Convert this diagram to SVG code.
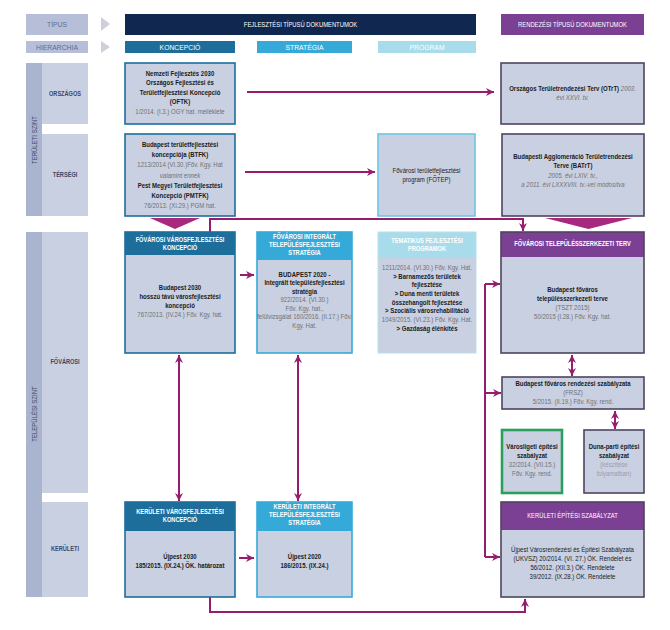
<svg xmlns="http://www.w3.org/2000/svg" width="670" height="630" viewBox="0 0 670 630">
<defs>
<style>
text{font-family:"Liberation Sans",Arial,sans-serif;text-anchor:middle;font-size:7px;fill:#1b1b1b}
.b{font-weight:bold}
.g{fill:#707070}
.i{font-style:italic}
.lg{fill:#9c9cab}
.h{fill:#fff;font-size:6.6px;font-weight:bold}
.hp{fill:#fff;font-size:6.8px}
.lab{fill:#3e4866;font-size:6.6px;font-weight:bold}
.side{fill:#3e4866;font-size:7px}
.top{fill:#616b93;font-size:6.8px}
.fill{fill:#c9d0e2}
.bt{fill:none;stroke:#1d6e9b;stroke-width:1.6}
.bs{fill:none;stroke:#35aad9;stroke-width:1.6}
.bl{fill:none;stroke:#6cc6e3;stroke-width:1.6}
.bp{fill:none;stroke:#4f4462;stroke-width:1.6}
.bg{fill:none;stroke:#2c9e5e;stroke-width:2.6}
.con{fill:none;stroke:#951c6e;stroke-width:2}
.chev{fill:#a8287e}
</style>
<marker id="ah" viewBox="0 0 10 10" refX="10" refY="5" markerWidth="8" markerHeight="8" markerUnits="userSpaceOnUse" orient="auto-start-reverse"><path d="M0,0 L10,5 L0,10 L3,5 z" fill="#951c6e"/></marker>
</defs>
<rect width="670" height="630" fill="#fff"/>

<!-- header -->
<g id="h-tipus">
<rect x="26" y="14" width="62" height="21" fill="#b7bfd8"/>
<text class="top" x="57" y="27">TÍPUS</text>
<polygon points="101,17 110,24 101,31" fill="#cdd0da"/>
</g>
<g id="h-fejl">
<rect x="125" y="14" width="351" height="21" fill="#10284f"/>
<g transform="translate(300.5 0) scale(.86 1)"><text class="hp" y="27">FEJLESZTÉSI TÍPUSÚ DOKUMENTUMOK</text></g>
</g>
<g id="h-rend">
<rect x="501" y="14" width="143" height="21" fill="#7b3f94"/>
<g transform="translate(572.5 0) scale(.86 1)"><text class="hp" y="27">RENDEZÉSI TÍPUSÚ DOKUMENTUMOK</text></g>
</g>
<g id="h-hier">
<rect x="26" y="41" width="62" height="12" fill="#b7bfd8"/>
<text class="top" x="57" y="49.5">HIERARCHIA</text>
<polygon points="101,41 110,47 101,53" fill="#cdd0da"/>
</g>
<g id="h-konc">
<rect x="125" y="41" width="110" height="12" fill="#1d6e9b"/>
<text class="hp" x="180" y="49.5">KONCEPCIÓ</text>
</g>
<g id="h-strat">
<rect x="257" y="41" width="95" height="12" fill="#35aad9"/>
<text class="hp" x="304.5" y="49.5">STRATÉGIA</text>
</g>
<g id="h-prog">
<rect x="378" y="41" width="98" height="12" fill="#a8dcea"/>
<text class="hp" x="427" y="49.5">PROGRAM</text>
</g>

<!-- left levels -->
<g id="lv-teruleti">
<rect x="26" y="63" width="16" height="153" fill="#a9b5cf"/>
<g transform="translate(36.5 140) rotate(-90) scale(.86 1)"><text class="side" x="0" y="0">TERÜLETI SZINT</text></g>
</g>
<g id="lv-orszagos">
<rect x="42" y="63" width="46" height="61" fill="#c9d0e2"/>
<g transform="translate(65 0) scale(.85 1)"><text class="lab" y="96">ORSZÁGOS</text></g>
</g>
<g id="lv-tersegi">
<rect x="42" y="134" width="46" height="82" fill="#c9d0e2"/>
<g transform="translate(65 0) scale(.85 1)"><text class="lab" y="177">TÉRSÉGI</text></g>
</g>
<g id="lv-telepulesi">
<rect x="26" y="232" width="16" height="365" fill="#a9b5cf"/>
<g transform="translate(36.5 414) rotate(-90) scale(.86 1)"><text class="side" x="0" y="0">TELEPÜLÉSI SZINT</text></g>
</g>
<g id="lv-fovarosi">
<rect x="42" y="232" width="46" height="261" fill="#c9d0e2"/>
<g transform="translate(65 0) scale(.85 1)"><text class="lab" y="364">FŐVÁROSI</text></g>
</g>
<g id="lv-keruleti">
<rect x="42" y="502" width="46" height="95" fill="#c9d0e2"/>
<g transform="translate(65 0) scale(.85 1)"><text class="lab" y="551">KERÜLETI</text></g>
</g>

<!-- connectors -->
<g id="connectors">
<polygon class="chev" points="150,218 200,218 175,229"/>
<polygon class="chev" points="545,218 632,218 588.5,229"/>
<path class="con" d="M247,92 H494" marker-end="url(#ah)"/>
<path class="con" d="M245,172 H375" marker-end="url(#ah)"/>
<path class="con" d="M210,232 V219 H523 V231" marker-end="url(#ah)"/>
<path class="con" d="M240,275 H254" marker-end="url(#ah)"/>
<path class="con" d="M485,284 V557"/>
<path class="con" d="M485,284 H500" marker-end="url(#ah)"/>
<path class="con" d="M485,393 H501" marker-end="url(#ah)"/>
<path class="con" d="M485,557 H500" marker-end="url(#ah)"/>
<path class="con" d="M572,355 V376" marker-start="url(#ah)" marker-end="url(#ah)"/>
<path class="con" d="M615,411 V429" marker-start="url(#ah)" marker-end="url(#ah)"/>
<path class="con" d="M179,355 V501" marker-start="url(#ah)" marker-end="url(#ah)"/>
<path class="con" d="M298,355 V501" marker-start="url(#ah)" marker-end="url(#ah)"/>
<path class="con" d="M239,558 H254" marker-end="url(#ah)"/>
<path class="con" d="M210,597 V612 H525 V599" marker-end="url(#ah)"/>
</g>

<!-- nodes -->
<g id="n-oftk">
<rect class="fill" x="125" y="63" width="110" height="61"/>
<rect class="bt" x="125" y="63" width="110" height="61"/>
<g transform="translate(180 0) scale(.86 1)">
<text class="b" y="76">Nemzeti Fejlesztés 2030</text>
<text class="b" y="85.5">Országos Fejlesztési és</text>
<text class="b" y="95">Területfejlesztési Koncepció</text>
<text class="b" y="104.5">(OFTK)</text>
<text class="g" y="114">1/2014. (I.3.) OGY hat. melléklete</text>
</g>
</g>

<g id="n-otrt">
<rect class="fill" x="501" y="63" width="143" height="61"/>
<rect class="bp" x="501" y="63" width="143" height="61"/>
<g transform="translate(572.5 0) scale(.86 1)">
<text y="91"><tspan class="b">Országos Területrendezési Terv (OTrT)</tspan><tspan class="g i">  2003.</tspan></text>
<text class="g i" y="100">évi XXVI. tv.</text>
</g>
</g>

<g id="n-btfk">
<rect class="fill" x="125" y="134" width="110" height="82"/>
<rect class="bt" x="125" y="134" width="110" height="82"/>
<g transform="translate(180 0) scale(.86 1)">
<text class="b" y="147">Budapest területfejlesztési</text>
<text class="b" y="157.2">koncepciója (BTFK)</text>
<text class="g" y="167.4">1213/2014 (VI.30.)Főv. Kgy. Hat</text>
<text class="g i" y="177.6">valamint ennek</text>
<text class="b" y="187.8">Pest Megyei Területfejlesztési</text>
<text class="b" y="198">Koncepció (PMTFK)</text>
<text class="g" y="208.2">76/2013. (XI.29.) PGM hat.</text>
</g>
</g>

<g id="n-fotep">
<rect class="fill" x="378" y="134" width="97" height="82"/>
<rect class="bl" x="378" y="134" width="97" height="82"/>
<g transform="translate(426.5 0) scale(.86 1)">
<text y="173">Fővárosi területfejlesztési</text>
<text y="182">program (FŐTEP)</text>
</g>
</g>

<g id="n-batrt">
<rect class="fill" x="502" y="134" width="142" height="82"/>
<rect class="bp" x="502" y="134" width="142" height="82"/>
<g transform="translate(573 0) scale(.86 1)">
<text class="b" y="159">Budapesti Agglomeráció Területrendezési</text>
<text class="b" y="168">Terve (BATrT)</text>
<text class="g i" y="178">2005. évi LXIV. tv.,</text>
<text class="g i" y="187">a 2011. évi LXXXVIII. tv.-vel módosítva</text>
</g>
</g>

<g id="n-fvk">
<rect class="fill" x="125" y="232" width="110" height="121"/>
<rect x="125" y="232" width="110" height="23" fill="#1d6e9b"/>
<rect class="bt" x="125" y="232" width="110" height="121"/>
<g transform="translate(180 0) scale(.86 1)">
<text class="h" y="242">FŐVÁROSI VÁROSFEJLESZTÉSI</text>
<text class="h" y="250.5">KONCEPCIÓ</text>
<text class="b" y="290">Budapest 2030</text>
<text class="b" y="299">hosszú távú városfejlesztési</text>
<text class="b" y="308">koncepció</text>
<text class="g" y="317">767/2013. (IV.24.) Főv. Kgy. hat.</text>
</g>
</g>

<g id="n-fits">
<rect class="fill" x="257" y="232" width="95" height="121"/>
<rect x="257" y="232" width="95" height="28" fill="#35aad9"/>
<rect class="bs" x="257" y="232" width="95" height="121"/>
<g transform="translate(304.5 0) scale(.86 1)">
<text class="h" y="239.5">FŐVÁROSI INTEGRÁLT</text>
<text class="h" y="247.5">TELEPÜLÉSFEJLESZTÉSI</text>
<text class="h" y="255.5">STRATÉGIA</text>
<text class="b" y="277">BUDAPEST 2020 -</text>
<text class="b" y="285.5">Integrált településfejlesztési</text>
<text class="b" y="294">stratégia</text>
<text class="g" y="302.5">922/2014. (VI.30.)</text>
<text class="g" y="311">Főv. Kgy. hat.,</text>
<text class="g" y="319.5">felülvizsgálat 160/2016. (II.17.) Főv.</text>
<text class="g" y="328">Kgy. Hat.</text>
</g>
</g>

<g id="n-tfp">
<rect class="fill" x="378" y="232" width="98" height="121"/>
<rect x="378" y="232" width="98" height="26" fill="#a8dcea"/>
<rect x="378" y="232" width="98" height="121" fill="none" stroke="#b9dfec" stroke-width="1"/>
<g transform="translate(427 0) scale(.86 1)">
<text class="h" y="243">TEMATIKUS FEJLESZTÉSI</text>
<text class="h" y="251.5">PROGRAMOK</text>
<text class="g" y="270">1211/2014. (VI.30.) Főv. Kgy. Hat.</text>
<text class="b" y="278.7">&gt; Barnamezős területek</text>
<text class="b" y="287.4">fejlesztése</text>
<text class="b" y="296.1">&gt; Duna menti területek</text>
<text class="b" y="304.8">összehangolt fejlesztése</text>
<text class="b" y="313.5">&gt; Szociális városrehabilitáció</text>
<text class="g" y="322.2">1049/2015. (VI.23.) Főv. Kgy. Hat.</text>
<text class="b" y="331">&gt; Gazdaság élénkítés</text>
</g>
</g>

<g id="n-tszt">
<rect class="fill" x="501" y="232" width="143" height="121"/>
<rect x="501" y="232" width="143" height="25" fill="#7b3f94"/>
<rect class="bp" x="501" y="232" width="143" height="121"/>
<g transform="translate(572.5 0) scale(.86 1)">
<text class="h" y="246.5">FŐVÁROSI TELEPÜLÉSSZERKEZETI TERV</text>
<text class="b" y="292">Budapest főváros</text>
<text class="b" y="301">településszerkezeti terve</text>
<text class="g" y="310">(TSZT 2015)</text>
<text class="g" y="319">50/2015 (I.28.) Főv. Kgy. hat.</text>
</g>
</g>

<g id="n-frsz">
<rect class="fill" x="502" y="377" width="142" height="32"/>
<rect class="bp" x="502" y="377" width="142" height="32"/>
<g transform="translate(573 0) scale(.86 1)">
<text class="b" y="386">Budapest főváros rendezési szabályzata</text>
<text class="g" y="395">(FRSZ)</text>
<text class="g" y="404">5/2015. (II.19.) Főv. Kgy. rend.</text>
</g>
</g>

<g id="n-varosliget">
<rect class="fill" x="502" y="430" width="60" height="63"/>
<rect class="bg" x="502" y="430" width="60" height="63"/>
<g transform="translate(532 0) scale(.86 1)">
<text class="b" y="449">Városligeti építési</text>
<text class="b" y="458">szabályzat</text>
<text class="g" y="467">32/2014. (VII.15.)</text>
<text class="g" y="476">Főv. Kgy. rend.</text>
</g>
</g>

<g id="n-dunapart">
<rect class="fill" x="584" y="430" width="60" height="63"/>
<rect class="bp" x="584" y="430" width="60" height="63"/>
<g transform="translate(614 0) scale(.86 1)">
<text class="b" y="449">Duna-parti építési</text>
<text class="b" y="458">szabályzat</text>
<text class="lg" y="467">(készítése</text>
<text class="lg" y="476">folyamatban)</text>
</g>
</g>

<g id="n-kvk">
<rect class="fill" x="125" y="502" width="110" height="95"/>
<rect x="125" y="502" width="110" height="29" fill="#1d6e9b"/>
<rect class="bt" x="125" y="502" width="110" height="95"/>
<g transform="translate(180 0) scale(.86 1)">
<text class="h" y="514">KERÜLETI VÁROSFEJLESZTÉSI</text>
<text class="h" y="522.5">KONCEPCIÓ</text>
<text class="b" y="559">Újpest 2030</text>
<text class="b" y="568">185/2015. (IX.24.) ÖK. határozat</text>
</g>
</g>

<g id="n-kits">
<rect class="fill" x="257" y="502" width="95" height="95"/>
<rect x="257" y="502" width="95" height="29" fill="#35aad9"/>
<rect class="bs" x="257" y="502" width="95" height="95"/>
<g transform="translate(304.5 0) scale(.86 1)">
<text class="h" y="509.5">KERÜLETI INTEGRÁLT</text>
<text class="h" y="517.5">TELEPÜLÉSFEJLESZTÉSI</text>
<text class="h" y="525.5">STRATÉGIA</text>
<text class="b" y="559">Újpest 2020</text>
<text class="b" y="568">186/2015. (IX.24.)</text>
</g>
</g>

<g id="n-kesz">
<rect class="fill" x="501" y="502" width="143" height="95"/>
<rect x="501" y="502" width="143" height="28" fill="#7b3f94"/>
<rect class="bp" x="501" y="502" width="143" height="95"/>
<g transform="translate(572.5 0) scale(.86 1)">
<text class="hp" y="518.5">KERÜLETI ÉPÍTÉSI SZABÁLYZAT</text>
<text y="552">Újpest Városrendezési és Építési Szabályzata</text>
<text y="561">(UKVSZ) 20/2014. (VI. 27.) ÖK. Rendelet és</text>
<text y="570">56/2012. (XII.3.) ÖK. Rendelete</text>
<text y="579">39/2012. (IX.28.) ÖK. Rendelete</text>
</g>
</g>
</svg>
